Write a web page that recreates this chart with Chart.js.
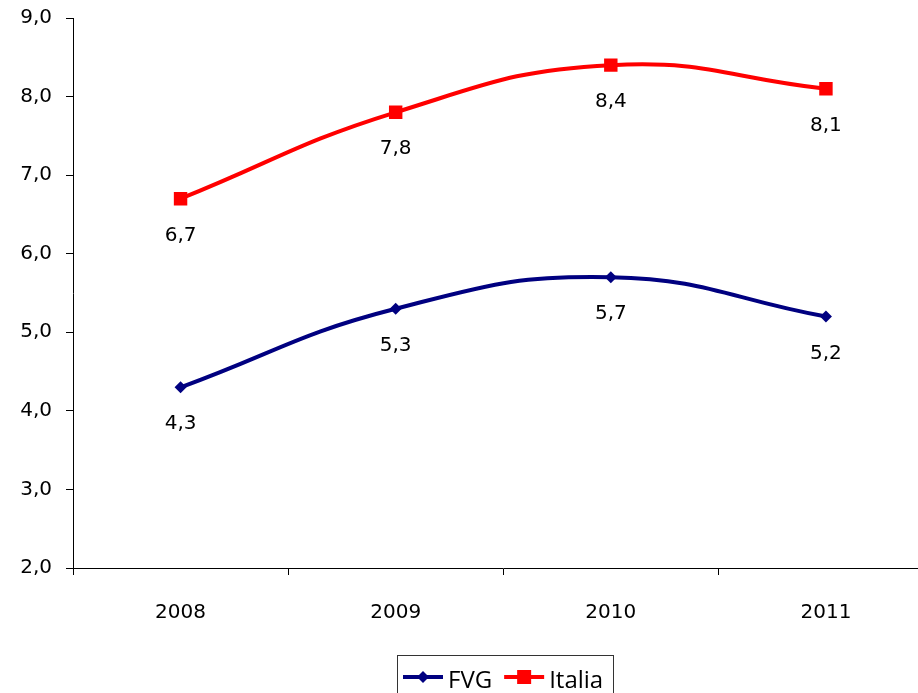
<!DOCTYPE html>
<html>
<head>
<meta charset="utf-8">
<script src="https://cdn.jsdelivr.net/npm/chart.js@4"></script>
<style>
  html, body { margin: 0; padding: 0; background: #fff; overflow: hidden; }
  #wrap { width: 943px; height: 693px; }
</style>
</head>
<body>
<div id="wrap"><canvas id="chart" width="943" height="693"></canvas></div>
<script>
const years = ['2008', '2009', '2010', '2011'];
const fvg = [4.3, 5.3, 5.7, 5.2];
const italia = [6.7, 7.8, 8.4, 8.1];
const yTicks = [2, 3, 4, 5, 6, 7, 8, 9];

function fmt(v){
    return v.toFixed(1).replace('.', ',');
}

// value labels under each point
const valueLabels = {
    id: 'valueLabels',
    afterDatasetsDraw(chart){
        const ctx = chart.ctx;
        ctx.save();
        ctx.font = '20px "DejaVu Sans"';
        ctx.fillStyle = '#000';
        ctx.textAlign = 'center';
        ctx.textBaseline = 'middle';
        chart.data.datasets.forEach((ds, i) => {
            chart.getDatasetMeta(i).data.forEach((pt, j) => {
                ctx.fillText(fmt(ds.data[j]), pt.x, pt.y + 37);
            });
        });
        ctx.restore();
    }
};

// boxed legend at the bottom: line + marker + text
const boxLegend = {
    id: 'boxLegend',
    afterDraw(chart){
        const ctx = chart.ctx;
        ctx.save();
        ctx.strokeStyle = '#333';
        ctx.lineWidth = 1;
        ctx.strokeRect(397.5, 655.5, 216, 45);
        ctx.font = '24px "Open Sans"';
        ctx.textBaseline = 'alphabetic';
        ctx.textAlign = 'left';
        let x = 403;
        chart.data.datasets.forEach(ds => {
            const cy = 677;
            ctx.strokeStyle = ds.borderColor;
            ctx.lineWidth = 4;
            ctx.beginPath();
            ctx.moveTo(x, cy);
            ctx.lineTo(x + 40, cy);
            ctx.stroke();
            ctx.fillStyle = ds.borderColor;
            const mx = x + 20;
            if(ds.pointStyle == 'rect'){
                ctx.fillRect(mx - 7, cy - 7, 14, 14);
            }else{
                ctx.beginPath();
                ctx.moveTo(mx, cy - 6);
                ctx.lineTo(mx + 6, cy);
                ctx.lineTo(mx, cy + 6);
                ctx.lineTo(mx - 6, cy);
                ctx.closePath();
                ctx.fill();
            }
            ctx.fillStyle = '#000';
            ctx.fillText(ds.label, x + 45, 688);
            x += 45 + ctx.measureText(ds.label).width + 12;
        });
        ctx.restore();
    }
};

new Chart(
    document.getElementById('chart'),
    {
        type: 'line',
        data: {
            labels: years,
            datasets: [
                {
                    label: 'FVG',
                    data: fvg,
                    borderColor: '#000080',
                    backgroundColor: '#000080',
                    borderWidth: 4,
                    pointStyle: 'rectRot',
                    pointRadius: 6,
                    pointBorderWidth: 0,
                    tension: 0.45
                },
                {
                    label: 'Italia',
                    data: italia,
                    borderColor: '#ff0000',
                    backgroundColor: '#ff0000',
                    borderWidth: 4,
                    pointStyle: 'rect',
                    pointRadius: 9.5,
                    pointBorderWidth: 0,
                    tension: 0.45
                }
            ]
        },
        options: {
            responsive: false,
            animation: false,
            layout: { padding: { top: 18, left: 0, right: 0, bottom: 65 } },
            plugins: {
                legend: { display: false },
                tooltip: { enabled: false }
            },
            scales: {
                x: {
                    offset: true,
                    grid: {
                        offset: true,
                        drawOnChartArea: false,
                        tickLength: 7,
                        color: '#000'
                    },
                    border: { color: '#000', width: 1 },
                    ticks: {
                        padding: 26,
                        color: '#000',
                        font: { family: 'DejaVu Sans', size: 20 }
                    },
                    afterFit(axis){ axis.height = 60; }
                },
                y: {
                    min: 2,
                    max: 9,
                    afterBuildTicks(axis){ axis.ticks = yTicks.map(v => ({ value: v })); },
                    grid: {
                        drawOnChartArea: false,
                        tickLength: 7,
                        color: '#000'
                    },
                    border: { color: '#000', width: 1 },
                    ticks: {
                        padding: 14,
                        color: '#000',
                        font: { family: 'DejaVu Sans', size: 20 },
                        callback: v => fmt(v)
                    },
                    afterFit(axis){
                        axis.width = 73;
                        axis.paddingTop = 0;
                        axis.paddingBottom = 0;
                    }
                }
            }
        },
        plugins: [valueLabels, boxLegend]
    }
);
</script>
</body>
</html>
